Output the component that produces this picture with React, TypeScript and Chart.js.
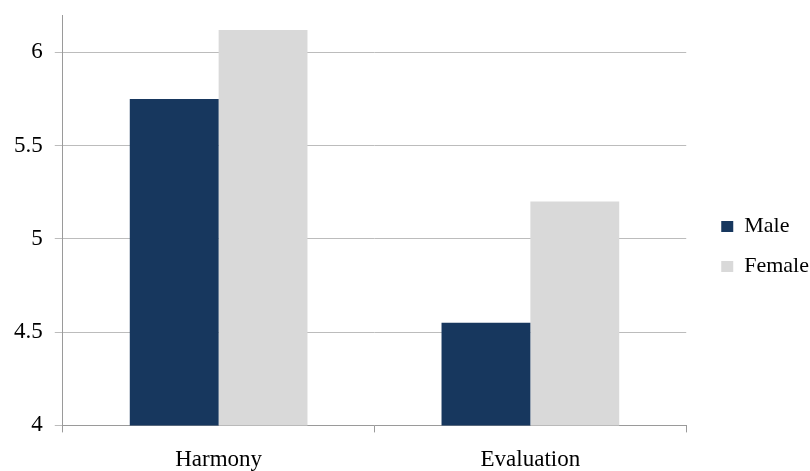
import React, { useEffect, useRef } from "react";
import { Chart, registerables } from "chart.js";

Chart.register(...registerables);

const categories = ["Harmony", "Evaluation"];
const maleValues = [5.75, 4.55];
const femaleValues = [6.12, 5.2];
const yTicks = [4, 4.5, 5, 5.5, 6];

const FONT = "'Liberation Serif', 'Times New Roman', serif";

// Nudges the legend block to the right of the space reserved for it,
// leaving a wider gap between the plot and the legend keys.
const legendShift = {
  id: "legendShift",
  afterLayout(chart: any) {
    const lg = chart.legend;
    if (lg) {
      lg.left += 17;
      lg.right += 17;
    }
  },
};

export default function App() {
  const canvasRef = useRef<HTMLCanvasElement | null>(null);

  useEffect(() => {
    const canvas = canvasRef.current;
    if (!canvas) return;
    const chart = new Chart(canvas, {
      type: "bar",
      data: {
        labels: categories,
        datasets: [
          {
            label: "Male",
            data: maleValues,
            backgroundColor: "#17375e",
            barPercentage: 1,
            categoryPercentage: 0.57,
          },
          {
            label: "Female",
            data: femaleValues,
            backgroundColor: "#d9d9d9",
            barPercentage: 1,
            categoryPercentage: 0.57,
          },
        ],
      },
      plugins: [legendShift],
      options: {
        animation: false,
        responsive: false,
        maintainAspectRatio: false,
        layout: { padding: { left: 2, top: 5, right: 8, bottom: -17 } },
        plugins: {
          tooltip: { enabled: false },
          legend: {
            position: "right",
            align: "center",
            labels: {
              boxWidth: 12,
              boxHeight: 11,
              padding: 18,
              color: "#000",
              font: { family: FONT, size: 22 },
            },
          },
        },
        scales: {
          x: {
            grid: {
              display: true,
              drawOnChartArea: false,
              drawTicks: true,
              tickLength: 7,
              color: "#9a9a9a",
              offset: true,
            },
            border: { display: true, color: "#9a9a9a" },
            ticks: {
              color: "#000",
              font: { family: FONT, size: 23 },
              padding: 14,
            },
          },
          y: {
            min: 4,
            max: 6.2,
            afterBuildTicks: (scale: any) => {
              scale.ticks = yTicks.map((v) => ({ value: v }));
            },
            afterFit: (scale: any) => {
              // top gap above the plot
              scale.paddingTop = 15;
            },
            grid: {
              color: "#bcbcbc",
              tickLength: 8,
              drawTicks: true,
            },
            border: { display: true, color: "#9a9a9a" },
            ticks: {
              color: "#000",
              font: { family: FONT, size: 23 },
              padding: 12,
              callback: (v: any) => String(v),
            },
          },
        },
      },
    });
    return () => chart.destroy();
  }, []);

  return (
    <div style={{ position: "fixed", left: 0, top: 0, width: 810, height: 471, background: "#fff", overflow: "hidden" }}>
      <canvas ref={canvasRef} width={810} height={471} />
    </div>
  );
}
